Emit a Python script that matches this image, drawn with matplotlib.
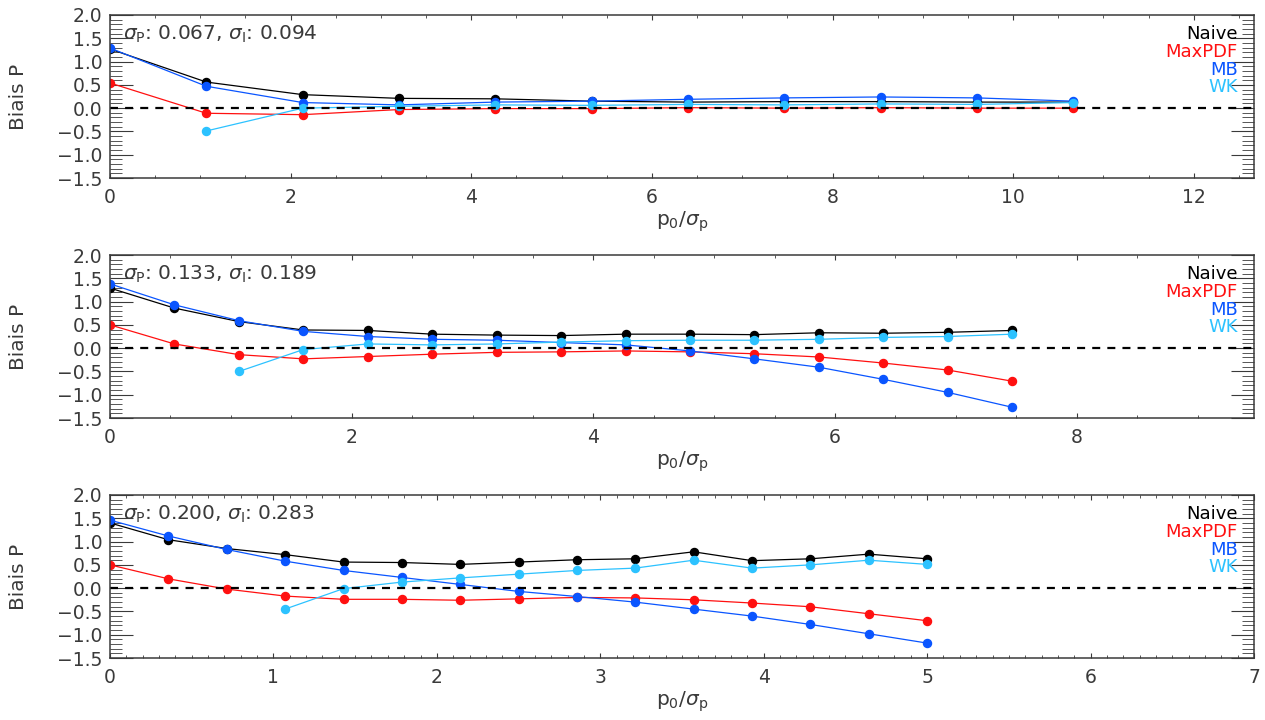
import matplotlib
matplotlib.use('Agg')
import matplotlib.pyplot as plt
import matplotlib.transforms as transforms
from matplotlib.ticker import MultipleLocator

# p0/sigma_p and bias values for the three noise levels
x1 = [0.0, 1.067, 2.133, 3.2, 4.267, 5.333, 6.4, 7.467, 8.533, 9.6, 10.667]
naive1 = [1.27, 0.56, 0.29, 0.21, 0.20, 0.15, 0.13, 0.14, 0.14, 0.13, 0.13]
maxpdf1 = [0.54, -0.11, -0.14, -0.03, -0.01, -0.01, 0.01, 0.0, 0.01, 0.0, 0.0]
mb1 = [1.29, 0.47, 0.12, 0.07, 0.13, 0.15, 0.19, 0.22, 0.24, 0.22, 0.15]
wk1 = [-0.49, 0.0, 0.04, 0.07, 0.06, 0.08, 0.07, 0.09, 0.08, 0.12]

x2 = [0.0, 0.533, 1.067, 1.6, 2.133, 2.667, 3.2, 3.733, 4.267, 4.8, 5.333,
      5.867, 6.4, 6.933, 7.467]
naive2 = [1.29, 0.86, 0.57, 0.39, 0.38, 0.30, 0.28, 0.27, 0.30, 0.30, 0.29,
          0.33, 0.32, 0.34, 0.38]
maxpdf2 = [0.50, 0.09, -0.14, -0.23, -0.18, -0.13, -0.09, -0.08, -0.06, -0.08,
           -0.12, -0.19, -0.32, -0.47, -0.71]
mb2 = [1.38, 0.93, 0.59, 0.36, 0.25, 0.19, 0.17, 0.12, 0.07, -0.06, -0.23,
       -0.41, -0.67, -0.95, -1.27]
wk2 = [-0.50, -0.03, 0.09, 0.07, 0.09, 0.13, 0.16, 0.17, 0.17, 0.19, 0.23,
       0.25, 0.30]

x3 = [0.0, 0.357, 0.714, 1.071, 1.429, 1.786, 2.143, 2.5, 2.857, 3.214, 3.571,
      3.929, 4.286, 4.643, 5.0]
naive3 = [1.40, 1.04, 0.85, 0.72, 0.56, 0.55, 0.51, 0.56, 0.61, 0.63, 0.78,
          0.59, 0.63, 0.73, 0.63]
maxpdf3 = [0.50, 0.20, -0.02, -0.17, -0.24, -0.24, -0.26, -0.23, -0.20, -0.21,
           -0.25, -0.32, -0.40, -0.55, -0.70]
mb3 = [1.46, 1.12, 0.83, 0.58, 0.38, 0.23, 0.08, -0.07, -0.18, -0.30, -0.45,
       -0.60, -0.78, -0.98, -1.18]
wk3 = [-0.45, -0.01, 0.13, 0.22, 0.30, 0.38, 0.43, 0.60, 0.43, 0.50, 0.60, 0.51]

sigma_p = ['0.067', '0.133', '0.200']
sigma_i = ['0.094', '0.189', '0.283']
methods = ['Naive', 'MaxPDF', 'MB', 'WK']
colors = ['black', '#ff1010', '#0a55ff', '#2cc2ff']

panels = [
    (x1, [naive1, maxpdf1, mb1, wk1], 2, 0.5),
    (x2, [naive2, maxpdf2, mb2, wk2], 2, 0.5),
    (x3, [naive3, maxpdf3, mb3, wk3], 1, 0.1),
]

txtcol = '#3a3a3a'
fig = plt.figure(figsize=(12.65, 7.2), dpi=100)

for k, (x, series, xmaj, xmin) in enumerate(panels):
    ax = fig.add_axes([110/1265, 1 - (178 + 240*k)/720, 1144/1265, 163/720])
    for s, col in zip(series, colors):
        xs = x[len(x) - len(s):]
        ax.plot(xs, s, '-', color=col, lw=0.9, marker='o', ms=5.8,
                mec=col, mfc=col)
    ax.axhline(0, color='black', lw=1.6, ls=(0, (3.6, 3.2)))

    ax.set_xlim(0, max(x) + 2)
    ax.set_ylim(-1.5, 2.0)
    ax.xaxis.set_major_locator(MultipleLocator(xmaj))
    ax.xaxis.set_minor_locator(MultipleLocator(xmin))
    ax.yaxis.set_major_locator(MultipleLocator(0.5))
    ax.yaxis.set_minor_locator(MultipleLocator(0.1))
    ax.tick_params(which='both', direction='in', top=True, right=True,
                   colors=txtcol, labelsize=13.5)
    ax.tick_params(axis='x', which='major', length=3.8, pad=7)
    ax.tick_params(axis='x', which='minor', length=2.2)
    ax.tick_params(axis='y', which='major', length=16.5, pad=5.5)
    ax.tick_params(axis='y', which='minor', length=8.3)
    for sp in ax.spines.values():
        sp.set_color(txtcol)
        sp.set_linewidth(1.1)

    # IDL pushes the end labels inside the axis range
    fig.canvas.draw()
    ylabs = ax.get_yticklabels()
    ylabs[0].set_transform(ylabs[0].get_transform() +
                           transforms.ScaledTranslation(0, 6/100, fig.dpi_scale_trans))
    ylabs[-1].set_transform(ylabs[-1].get_transform() +
                            transforms.ScaledTranslation(0, -5/100, fig.dpi_scale_trans))

    ax.set_xlabel(r'p$_0$/$\sigma_{\rm p}$', fontsize=14.5, color=txtcol,
                  labelpad=2)
    ax.set_ylabel('Biais P', fontsize=14.5, color=txtcol)
    ax.yaxis.set_label_coords(-0.072, 0.5)

    ax.text(0.011, 0.847,
            r'$\sigma_{\rm P}$: ' + sigma_p[k] + r', $\sigma_{\rm I}$: ' + sigma_i[k],
            transform=ax.transAxes, fontsize=14.5, color=txtcol,
            ha='left', va='baseline')
    for j, (name, col) in enumerate(zip(methods, colors)):
        ax.text(0.986, 0.85 - j*0.108, name, transform=ax.transAxes,
                fontsize=13, color=col, ha='right', va='baseline')

plt.savefig('out.png', dpi=100)
